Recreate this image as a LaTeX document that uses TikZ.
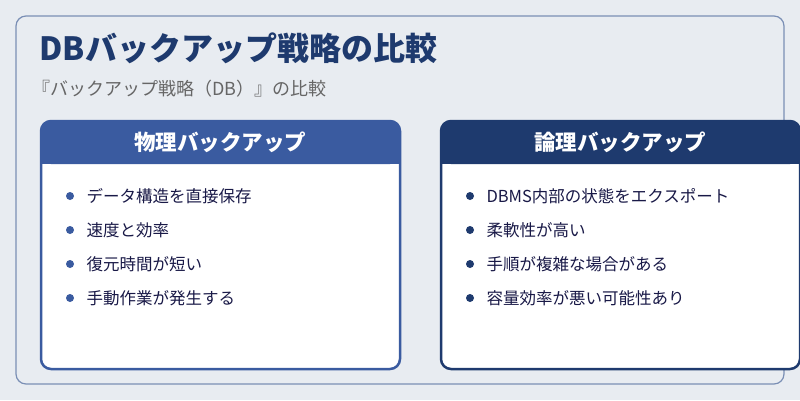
\documentclass[tikz,border=0pt]{standalone}
\usepackage{fontspec}
\setmainfont{Noto Sans CJK JP}
\begin{document}
\begin{tikzpicture}[x=1pt,y=-1pt,
  item/.style={anchor=west,font=\fontsize{16.5}{18}\selectfont,text=black!80!blue!90},
  hdr/.style={font=\bfseries\fontsize{21.5}{24}\selectfont,text=white}]
\definecolor{bg}{HTML}{E8ECF1}
\definecolor{lblue}{HTML}{3A5BA0}
\definecolor{dblue}{HTML}{1E3A6E}
\definecolor{frame}{HTML}{7A8FB5}
\useasboundingbox (0,0) rectangle (800,400);
\fill[bg] (0,0) rectangle (800,400);
\draw[frame,line width=1.2pt,rounded corners=10pt] (16,16) rectangle (784,384);
\node[anchor=west,font=\bfseries\fontsize{32}{36}\selectfont,text=dblue] (title) at (36,48) {DBバックアップ戦略の比較};
\node[anchor=west,font=\fontsize{18}{20}\selectfont,text=black!60] (sub) at (29,89) {『バックアップ戦略（DB）』の比較};
% left card
\fill[white,rounded corners=10pt] (41,121) rectangle (400,369);
\fill[lblue,rounded corners=10pt] (41,121) rectangle (400,164);
\fill[lblue] (41,150) rectangle (400,164);
\draw[lblue,line width=2.5pt,rounded corners=10pt] (41,121) rectangle (400,369);
\node[hdr] (lh) at (220,142) {物理バックアップ};
\foreach \t/\y [count=\i] in {データ構造を直接保存/196,速度と効率/230,復元時間が短い/264,手動作業が発生する/298}{
  \fill[lblue] (70,\y) circle (4);
  \node[item] (l\i) at (83,\y) {\t};}
% right card
\fill[white,rounded corners=10pt] (441,121) rectangle (800,369);
\fill[dblue,rounded corners=10pt] (441,121) rectangle (800,164);
\fill[dblue] (441,150) rectangle (800,164);
\draw[dblue,line width=2.5pt,rounded corners=10pt] (441,121) rectangle (800,369);
\node[hdr] (rh) at (620,142) {論理バックアップ};
\foreach \t/\y [count=\i] in {DBMS内部の状態をエクスポート/196,柔軟性が高い/230,手順が複雑な場合がある/264,容量効率が悪い可能性あり/298}{
  \fill[dblue] (470,\y) circle (4);
  \node[item] (r\i) at (483,\y) {\t};}
\end{tikzpicture}
\end{document}
